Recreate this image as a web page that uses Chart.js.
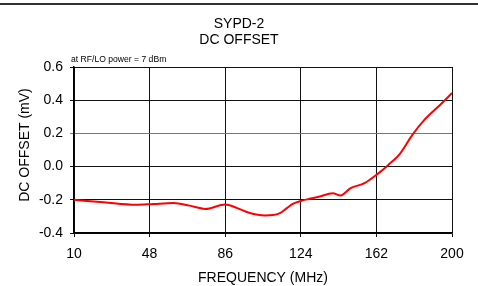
<!DOCTYPE html>
<html>
<head>
<meta charset="utf-8">
<script src="https://cdn.jsdelivr.net/npm/chart.js@4/dist/chart.umd.min.js"></script>
<style>
  html, body { margin: 0; padding: 0; background: #fff; }
  #wrap { position: relative; width: 478px; height: 286px; }
</style>
</head>
<body>
<div id="wrap"><canvas id="chart" width="478" height="286"></canvas></div>
<script>
// frequency (MHz) and dc offset (mV)
const freqs = [10, 25, 41, 50, 60, 68, 76, 86, 92, 98, 106, 110, 113.5, 117, 120, 124, 128, 133, 140, 144, 149, 156, 162, 168, 174, 180, 186, 193, 200];
const offsets = [-0.20, -0.215, -0.23, -0.225, -0.22, -0.235, -0.255, -0.228, -0.25, -0.278, -0.294, -0.292, -0.28, -0.25, -0.225, -0.207, -0.195, -0.182, -0.16, -0.174, -0.13, -0.10, -0.05, 0.01, 0.08, 0.19, 0.28, 0.36, 0.443];
const xTicks = [10, 48, 86, 124, 162, 200];
const yTicks = [-0.4, -0.2, 0.0, 0.2, 0.4, 0.6];

const titleLines = ['SYPD-2', 'DC OFFSET'];
const note = 'at RF/LO power = 7 dBm';
const xTitle = 'FREQUENCY (MHz)';
const yTitle = 'DC OFFSET (mV)';

const fontFam = '"Liberation Sans", Arial, sans-serif';

const textPlugin = {
  id: 'texts',
  afterDraw(chart) {
    const ctx = chart.ctx;
    const area = chart.chartArea;
    ctx.save();
    // top rule
    ctx.strokeStyle = '#333';
    ctx.lineWidth = 2;
    ctx.beginPath();
    ctx.moveTo(0, 4);
    ctx.lineTo(478, 4);
    ctx.stroke();

    ctx.fillStyle = '#000';
    ctx.textAlign = 'center';
    ctx.textBaseline = 'middle';
    ctx.font = '14px ' + fontFam;
    ctx.fillText(titleLines[0], 239, 24);
    ctx.fillText(titleLines[1], 239, 40);

    ctx.font = '8.6px ' + fontFam;
    ctx.textAlign = 'left';
    ctx.fillText(note, 71, 60);

    ctx.font = '14px ' + fontFam;
    ctx.textAlign = 'center';
    ctx.fillText(xTitle, (area.left + area.right) / 2, 278);

    ctx.translate(25, 145);
    ctx.rotate(-Math.PI / 2);
    ctx.fillText(yTitle, 0, 0);
    ctx.restore();
  }
};

new Chart(document.getElementById('chart'), {
  type: 'line',
  data: {
    datasets: [{
      data: freqs.map((f, i) => ({ x: f, y: offsets[i] })),
      borderColor: '#ff0000',
      borderWidth: 2,
      pointRadius: 0,
      cubicInterpolationMode: 'monotone',
      fill: false
    }]
  },
  options: {
    responsive: false,
    animation: false,
    layout: { padding: { top: 67, right: 26, left: 0, bottom: 0 } },
    plugins: {
      legend: { display: false },
      tooltip: { enabled: false }
    },
    scales: {
      x: {
        type: 'linear',
        min: 10,
        max: 200,
        afterBuildTicks: (scale) => { scale.ticks = xTicks.map(v => ({ value: v })); },
        afterFit: (scale) => { scale.height = 53; },
        grid: { color: '#111', lineWidth: 1, tickLength: 4, drawTicks: true },
        border: { color: '#000', width: 1.5 },
        ticks: { color: '#000', font: { family: fontFam, size: 14 }, padding: 9, maxRotation: 0 }
      },
      y: {
        min: -0.4,
        max: 0.6,
        afterBuildTicks: (scale) => { scale.ticks = yTicks.map(v => ({ value: v })); },
        afterFit: (scale) => { scale.width = 74; },
        grid: {
          color: (c) => (c.tick && Math.abs(c.tick.value - 0.2) < 1e-6) ? '#777' : '#111',
          lineWidth: 1,
          tickLength: 4
        },
        border: { color: '#000', width: 1.5 },
        ticks: {
          color: '#000',
          font: { family: fontFam, size: 14 },
          padding: 7,
          callback: (v) => v.toFixed(1)
        }
      }
    }
  },
  plugins: [textPlugin]
});
</script>
</body>
</html>
